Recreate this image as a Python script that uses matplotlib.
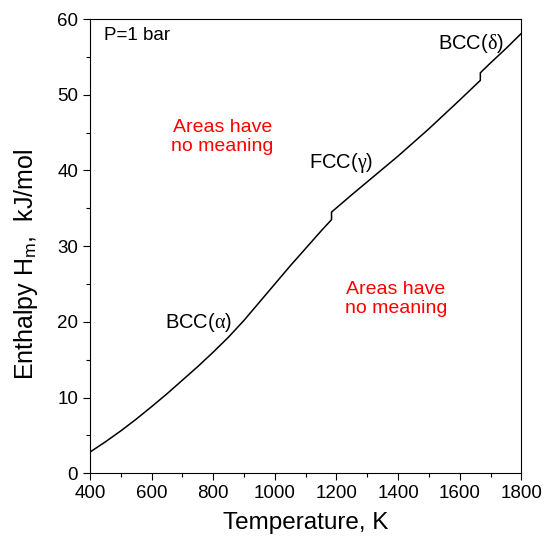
import numpy as np
import matplotlib
matplotlib.use("Agg")
import matplotlib.pyplot as plt
from matplotlib.ticker import MultipleLocator

plt.rcParams['font.family'] = ['Liberation Sans', 'DejaVu Sans']
plt.rcParams['mathtext.fontset'] = 'custom'
plt.rcParams['mathtext.rm'] = 'Liberation Sans'
plt.rcParams['mathtext.it'] = 'Liberation Serif'

# enthalpy of Fe at 1 bar
T_alpha = [400, 450, 500, 550, 600, 650, 700, 750, 800, 850, 900, 950, 1000,
           1050, 1100, 1150, 1184]
H_alpha = [2.8, 4.15, 5.6, 7.15, 8.8, 10.5, 12.3, 14.1, 16.0, 18.0, 20.2, 22.6, 25.0,
           27.4, 29.7, 32.0, 33.5]
T_gamma = [1184, 1250, 1300, 1350, 1400, 1450, 1500, 1550, 1600, 1667]
H_gamma = [34.5, 36.8, 38.5, 40.2, 41.9, 43.7, 45.5, 47.4, 49.3, 51.9]
T_delta = [1667, 1700, 1750, 1800]
H_delta = [52.9, 54.2, 56.1, 58.1]

T = T_alpha + T_gamma + T_delta
H = H_alpha + H_gamma + H_delta

fig = plt.figure(figsize=(5.44, 5.44), dpi=100)
ax = fig.add_axes([0.1654, 0.13, 0.7929, 0.835])

ax.plot(T, H, color='black', lw=1.1)

ax.set_xlim(400, 1800)
ax.set_ylim(0, 60)
ax.xaxis.set_major_locator(MultipleLocator(200))
ax.xaxis.set_minor_locator(MultipleLocator(100))
ax.yaxis.set_major_locator(MultipleLocator(10))
ax.yaxis.set_minor_locator(MultipleLocator(5))
ax.tick_params(which='major', direction='out', length=5, width=0.8, labelsize=13.5)
ax.tick_params(which='minor', direction='out', length=3, width=0.8)
for s in ax.spines.values():
    s.set_linewidth(0.8)

ax.set_xlabel('Temperature, K', fontsize=17.5, labelpad=7)
ax.set_ylabel(r'Enthalpy H$_\mathrm{m}$,  kJ/mol', fontsize=18, labelpad=6)
ax.yaxis.set_label_coords(-0.115, 0.46)

ax.text(445, 57.8, 'P=1 bar', fontsize=13.5, ha='left', va='center')
ax.text(1638, 56.8, r'BCC($\delta$)', fontsize=14.5, ha='center', va='center')
ax.text(1215, 41.0, r'FCC($\gamma$)', fontsize=14.5, ha='center', va='center')
ax.text(753, 19.9, r'BCC($\alpha$)', fontsize=14.5, ha='center', va='center')
ax.text(830, 44.4, 'Areas have\nno meaning', fontsize=14, color='red',
        ha='center', va='center', linespacing=1.15)
ax.text(1393, 23.0, 'Areas have\nno meaning', fontsize=14, color='red',
        ha='center', va='center', linespacing=1.15)

fig.savefig('out.png', dpi=100)
